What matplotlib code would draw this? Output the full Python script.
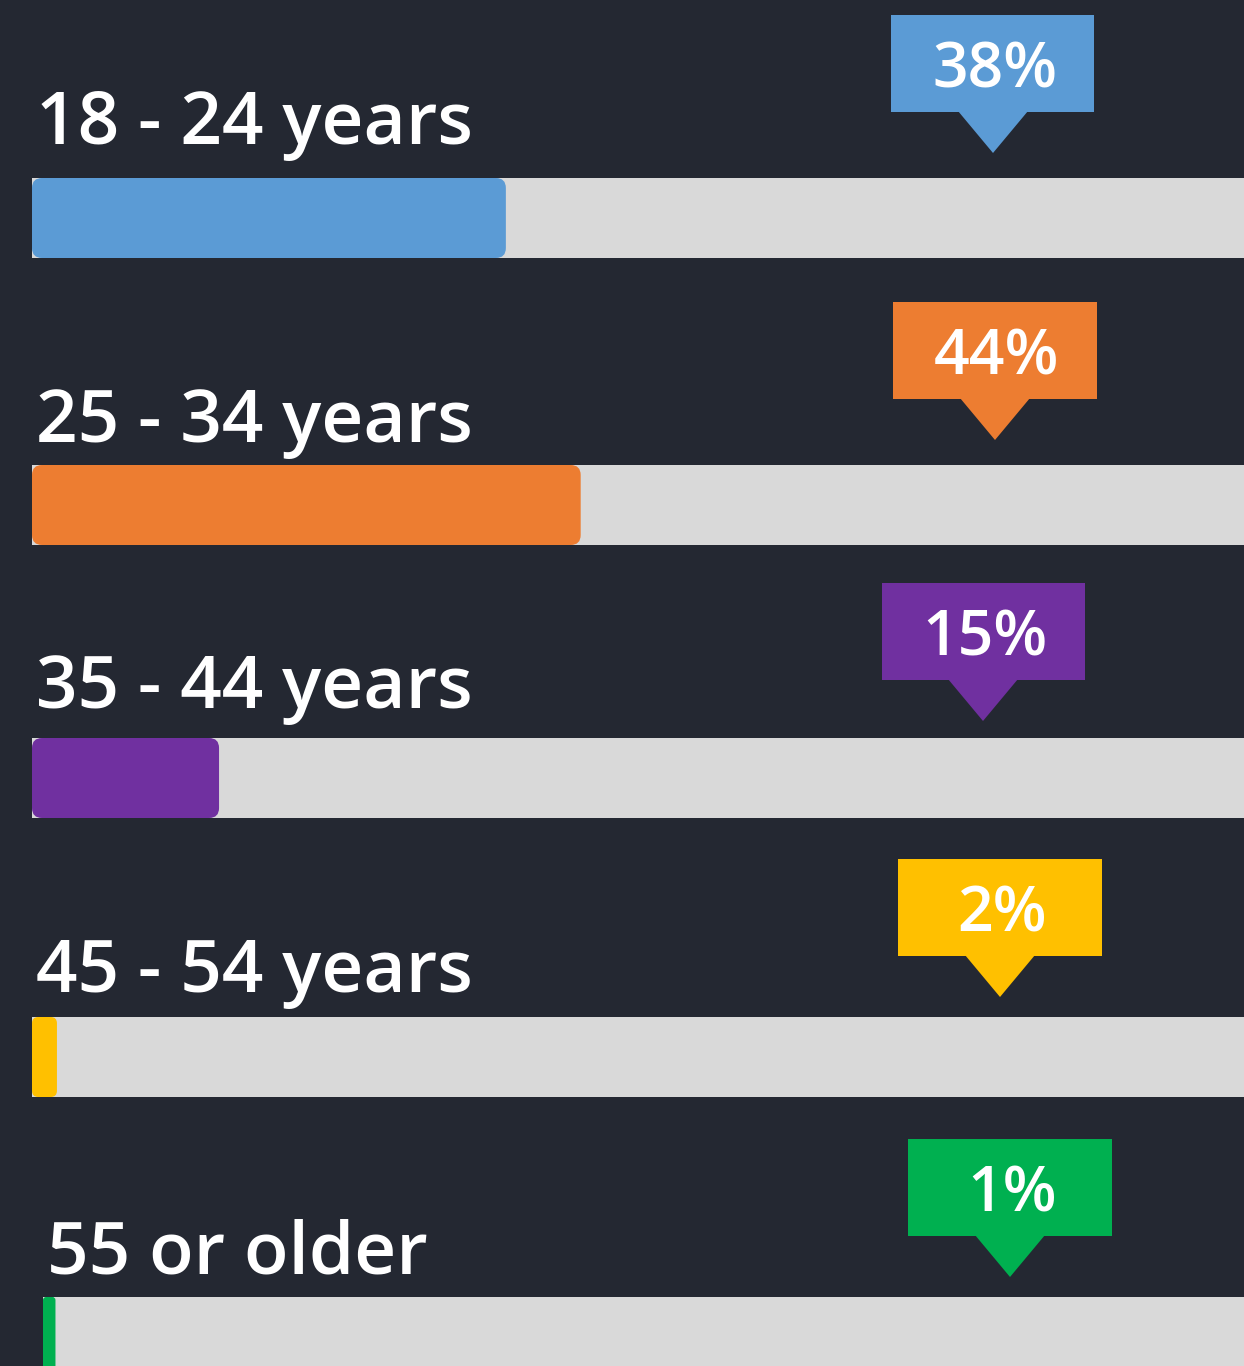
import matplotlib.pyplot as plt
from matplotlib.patches import FancyBboxPatch, Rectangle, Polygon

# 数据
categories = ["18 - 24 years", "25 - 34 years", "35 - 44 years", "45 - 54 years", "55 or older"]
shares = [38, 44, 15, 2, 1]
colors = ["#5B9BD5", "#ED7D31", "#7030A0", "#FFC000", "#00B050"]

BG = "#242832"
TRACK = "#D9D9D9"
FONT = "Open Sans"

# 版面 (像素)
W, H = 1244, 1366
PX = 12.47          # 每 1% 的像素
X0 = 32             # 0% 的位置
bar_top = [178, 465, 738, 1017, 1297]
bar_h = 80
label_base = [144, 442, 708, 992, 1273]
label_pad = 4
row_shift = [0, 0, 0, 0, 11]
callout_cx = [993, 995, 983, 1000, 1010]
callout_top = [15, 302, 583, 859, 1139]
box_w, box_h = 203, 97
tri_w, tri_h = 70, 41


def px2x(px):
    return (px - X0) / PX


fig = plt.figure(figsize=(W / 100, H / 100), dpi=100)
fig.patch.set_facecolor(BG)
ax = fig.add_axes([0, 0, 1, 1])
ax.set_facecolor(BG)
ax.set_xlim(px2x(0), px2x(W))
ax.set_ylim(H, 0)
ax.axis("off")

for i, (cat, val, col) in enumerate(zip(categories, shares, colors)):
    left = row_shift[i] / PX
    yc = bar_top[i] + bar_h / 2

    # 灰色底条
    ax.barh(yc, 100, left=left, height=bar_h, color=TRACK, zorder=1)

    # 彩色进度条 (圆角)
    r = min(10 / PX, val * 0.25)
    fill = FancyBboxPatch((left, bar_top[i]), val, bar_h,
                          boxstyle=f"round,pad=0,rounding_size={r}",
                          mutation_aspect=PX, facecolor=col, edgecolor="none", zorder=2)
    ax.add_patch(fill)

    # 标签
    ax.text(left + label_pad / PX, label_base[i], cat, color="white", fontsize=52.5,
            fontfamily=FONT, fontweight="semibold", ha="left", va="baseline", zorder=3)

    # 百分比气泡
    cx, top = callout_cx[i], callout_top[i]
    ax.add_patch(Rectangle((px2x(cx - box_w / 2), top), box_w / PX, box_h,
                           facecolor=col, edgecolor="none", zorder=3))
    ax.add_patch(Polygon([(px2x(cx - tri_w / 2), top + box_h - 1),
                          (px2x(cx + tri_w / 2), top + box_h - 1),
                          (px2x(cx), top + box_h + tri_h)],
                         closed=True, facecolor=col, edgecolor="none", zorder=3))
    ax.text(px2x(cx + 2), top + box_h / 2 + 24, f"{val}%", color="white", fontsize=45,
            fontfamily=FONT, fontweight="semibold", ha="center", va="baseline", zorder=4)

fig.savefig("out.png", dpi=100, facecolor=BG)
